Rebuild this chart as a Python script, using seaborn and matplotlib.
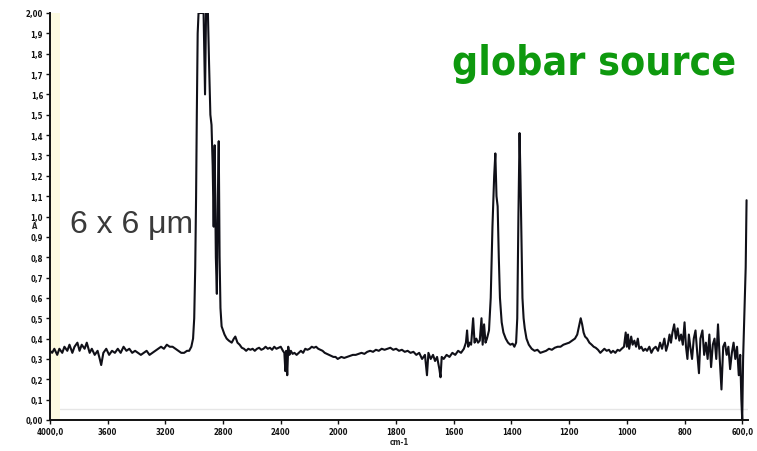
import os
import numpy as np
import pandas as pd
import matplotlib
matplotlib.use("Agg")
import matplotlib.pyplot as plt
from matplotlib import font_manager as fm
import seaborn as sns

# ---------------- data ----------------
wavenumber = [
    4000, 3985, 3970, 3950, 3935, 3915, 3900, 3880, 3865, 3845, 3830, 3810, 3795, 3780,
    3760, 3745, 3725, 3710, 3690, 3670, 3655, 3645, 3630, 3610, 3590, 3570, 3550, 3530,
    3510, 3490, 3470, 3450, 3430, 3410, 3390, 3370, 3350, 3330, 3310, 3290, 3270, 3250,
    3230, 3210, 3190, 3170, 3150, 3130, 3110, 3090, 3070, 3050, 3035, 3020, 3008, 3000,
    2993, 2987, 2982, 2976, 2970, 2950, 2935, 2925, 2918, 2905, 2897, 2888, 2880, 2872,
    2865, 2858, 2850, 2843, 2836, 2830, 2824, 2818, 2810, 2800, 2790, 2775, 2760, 2740,
    2725, 2715, 2700, 2685, 2670, 2655, 2640, 2625, 2610, 2595, 2580, 2565, 2550, 2535,
    2520, 2505, 2490, 2475, 2460, 2445, 2430, 2415, 2400, 2385, 2375, 2368, 2362, 2355,
    2348, 2340, 2330, 2318, 2305, 2290, 2275, 2260, 2245, 2230, 2215, 2200, 2185, 2170,
    2155, 2140, 2125, 2110, 2095, 2080, 2065, 2050, 2035, 2020, 2005, 1990, 1980, 1970,
    1960, 1950, 1940, 1930, 1920, 1910, 1900, 1890, 1880, 1870, 1860, 1850, 1840, 1830,
    1820, 1810, 1800, 1790, 1780, 1770, 1760, 1750, 1740, 1730, 1720, 1710, 1700, 1693,
    1688, 1680, 1672, 1665, 1658, 1650, 1646, 1642, 1635, 1625, 1615, 1605, 1595, 1585,
    1575, 1565, 1558, 1554, 1550, 1545, 1540, 1533, 1528, 1522, 1516, 1510, 1504, 1500,
    1495, 1490, 1485, 1478, 1472, 1466, 1460, 1456, 1452, 1448, 1444, 1440, 1434, 1428,
    1420, 1412, 1404, 1396, 1390, 1384, 1380, 1376, 1372, 1369, 1366, 1362, 1358, 1354,
    1348, 1340, 1330, 1320, 1310, 1300, 1290, 1280, 1270, 1260, 1250, 1240, 1230, 1220,
    1210, 1200, 1190, 1180, 1172, 1166, 1160, 1155, 1150, 1145, 1138, 1130, 1122, 1115,
    1108, 1100, 1092, 1085, 1078, 1070, 1062, 1055, 1048, 1040, 1032, 1025, 1018, 1010,
    1004, 1000, 996, 992, 985, 980, 974, 968, 962, 957, 950, 943, 936, 930,
    922, 915, 908, 900, 892, 885, 878, 870, 864, 858, 852, 847, 842, 836,
    830, 824, 818, 812, 806, 800, 795, 790, 785, 780, 774, 768, 762, 756,
    750, 745, 738, 732, 726, 720, 714, 708, 702, 696, 690, 684, 678, 672,
    666, 660, 654, 648, 642, 636, 630, 624, 618, 612, 607, 603, 600, 597,
    594, 591, 588, 585,
]
absorbance = [
    0.34, 0.33, 0.35, 0.32, 0.35, 0.33, 0.36, 0.34, 0.37, 0.33, 0.36, 0.38, 0.34, 0.37,
    0.35, 0.38, 0.33, 0.35, 0.32, 0.34, 0.30, 0.27, 0.33, 0.35, 0.32, 0.34, 0.33, 0.35,
    0.33, 0.36, 0.34, 0.35, 0.33, 0.34, 0.33, 0.32, 0.33, 0.34, 0.32, 0.33, 0.34, 0.35,
    0.36, 0.35, 0.37, 0.36, 0.36, 0.35, 0.34, 0.33, 0.33, 0.34, 0.34, 0.36, 0.40, 0.50,
    0.75, 1.10, 1.50, 1.90, 2.00, 2.00, 2.00, 1.60, 2.00, 2.00, 1.75, 1.50, 1.45, 1.25,
    0.95, 1.35, 0.80, 0.62, 1.10, 1.37, 0.80, 0.55, 0.46, 0.44, 0.42, 0.40, 0.39, 0.38,
    0.40, 0.41, 0.38, 0.37, 0.355, 0.35, 0.34, 0.35, 0.345, 0.35, 0.34, 0.35, 0.355, 0.345,
    0.35, 0.36, 0.35, 0.355, 0.345, 0.36, 0.35, 0.355, 0.36, 0.34, 0.33, 0.24, 0.34, 0.22,
    0.36, 0.32, 0.34, 0.325, 0.33, 0.32, 0.33, 0.34, 0.33, 0.35, 0.345, 0.35, 0.36, 0.355,
    0.36, 0.35, 0.345, 0.34, 0.33, 0.325, 0.32, 0.315, 0.31, 0.31, 0.30, 0.31, 0.305, 0.31,
    0.315, 0.32, 0.32, 0.325, 0.33, 0.325, 0.335, 0.34, 0.335, 0.345, 0.34, 0.35, 0.345, 0.35,
    0.355, 0.345, 0.35, 0.34, 0.345, 0.335, 0.34, 0.33, 0.335, 0.32, 0.33, 0.30, 0.32, 0.22,
    0.33, 0.30, 0.32, 0.29, 0.31, 0.25, 0.21, 0.31, 0.30, 0.32, 0.31, 0.33, 0.32, 0.34,
    0.33, 0.35, 0.38, 0.44, 0.36, 0.38, 0.37, 0.50, 0.38, 0.40, 0.38, 0.39, 0.50, 0.37,
    0.47, 0.38, 0.40, 0.44, 0.60, 0.95, 1.20, 1.31, 1.10, 1.05, 0.80, 0.60, 0.48, 0.43,
    0.40, 0.38, 0.37, 0.375, 0.36, 0.38, 0.50, 1.00, 1.41, 1.20, 0.95, 0.60, 0.50, 0.45,
    0.40, 0.37, 0.35, 0.34, 0.345, 0.33, 0.335, 0.34, 0.35, 0.345, 0.355, 0.36, 0.36, 0.37,
    0.375, 0.38, 0.39, 0.40, 0.42, 0.46, 0.50, 0.47, 0.43, 0.41, 0.40, 0.38, 0.37, 0.36,
    0.355, 0.345, 0.33, 0.34, 0.35, 0.34, 0.345, 0.33, 0.34, 0.33, 0.345, 0.34, 0.35, 0.36,
    0.43, 0.36, 0.42, 0.35, 0.41, 0.37, 0.39, 0.36, 0.40, 0.35, 0.36, 0.34, 0.35, 0.34,
    0.36, 0.33, 0.35, 0.36, 0.34, 0.38, 0.35, 0.40, 0.34, 0.37, 0.42, 0.38, 0.43, 0.47,
    0.40, 0.45, 0.39, 0.42, 0.37, 0.48, 0.36, 0.30, 0.42, 0.36, 0.30, 0.40, 0.44, 0.33,
    0.23, 0.40, 0.44, 0.32, 0.38, 0.30, 0.42, 0.26, 0.37, 0.40, 0.30, 0.47, 0.30, 0.15,
    0.36, 0.38, 0.32, 0.36, 0.25, 0.33, 0.38, 0.30, 0.36, 0.22, 0.32, 0.10, 0.00, 0.30,
    0.45, 0.60, 0.75, 1.08,
]

x_ticks = [4000, 3600, 3200, 2800, 2400, 2000, 1800, 1600, 1400, 1200, 1000, 800, 600]
x_tick_labels = ["4000,0", "3600", "3200", "2800", "2400", "2000", "1800", "1600",
                 "1400", "1200", "1000", "800", "600,0"]
y_ticks = [0.0, 0.1, 0.2, 0.3, 0.4, 0.5, 0.6, 0.7, 0.8, 0.9, 1.0,
           1.1, 1.2, 1.3, 1.4, 1.5, 1.6, 1.7, 1.8, 1.9, 2.0]
y_tick_labels = ["0,00", "0,1", "0,2", "0,3", "0,4", "0,5", "0,6", "0,7", "0,8", "0,9", "1,0",
                 "1,1", "1,2", "1,3", "1,4", "1,5", "1,6", "1,7", "1,8", "1,9", "2,00"]


# ---------------- fonts: look for a narrow / condensed bold sans ----------------
def find_condensed_bold():
    prefs = ['liberationsansnarrow', 'arimo', 'notosans', 'dejavusans', 'roboto',
             'opensans', 'lato', 'inter']
    found = []
    for f in fm.fontManager.ttflist:
        base = os.path.basename(f.fname)
        low = base.lower().replace('-', '').replace('_', '')
        if not ('narrow' in low or 'condensed' in low):
            continue
        if 'semicondensed' in low or 'extracondensed' in low or 'ultracondensed' in low:
            continue
        if 'italic' in low or 'oblique' in low:
            continue
        if 'bold' not in low or 'semibold' in low or 'extrabold' in low:
            continue
        if 'serif' in low or 'mono' in low:
            continue
        rank = len(prefs)
        for i, p in enumerate(prefs):
            if low.startswith(p):
                rank = i
                break
        found.append((rank, f.fname))
    found.sort()
    return found[0][1] if found else None


cond_bold = find_condensed_bold()

# ---------------- style ----------------
sns.set_style("ticks")
plt.rcParams['font.family'] = ['DejaVu Sans']

W, H = 757, 452
fig = plt.figure(figsize=(W / 100, H / 100), dpi=100)
ax = fig.add_axes([50 / W, 31 / H, 698 / W, 407 / H])


# wavenumber axis: scale doubles below 2000 cm-1 (as in the instrument display)
def fwd(w):
    w = np.asarray(w, dtype=float)
    return np.where(w >= 2000, w, 2 * w - 2000)


def inv(v):
    v = np.asarray(v, dtype=float)
    return np.where(v >= 2000, v, (v + 2000) / 2)


ax.set_xscale('function', functions=(fwd, inv))

# faint artefacts of the original screenshot
ax.axvspan(3990, 3934, color='#fdfbe2', zorder=0, lw=0)
ax.axhline(0.054, xmin=10 / 698, xmax=1, color='#e6e6e6', lw=1, zorder=0)

df = pd.DataFrame({'wn': wavenumber, 'A': absorbance})
sns.lineplot(data=df, x='wn', y='A', sort=False, estimator=None,
             color='#101018', lw=1.5, ax=ax)

ax.set_xlim(4000, 580)
ax.set_ylim(0, 2.0)

if cond_bold:
    tick_fp = fm.FontProperties(fname=cond_bold, size=5.6)
else:
    tick_fp = fm.FontProperties(family='DejaVu Sans', weight='bold', size=5.0)

ax.set_xticks(x_ticks)
ax.set_xticklabels(x_tick_labels, fontproperties=tick_fp)
ax.set_yticks(y_ticks)
ax.set_yticklabels(y_tick_labels, fontproperties=tick_fp)
ax.minorticks_off()
ax.tick_params(axis='both', direction='out', length=3, width=1, pad=2, colors='#111111')

for s in ['top', 'right']:
    ax.spines[s].set_visible(False)
for s in ['left', 'bottom']:
    ax.spines[s].set_linewidth(1.4)
    ax.spines[s].set_color('#111111')

ax.set_xlabel('cm-1', fontproperties=tick_fp, labelpad=1)
ax.set_ylabel('A', rotation=0, fontproperties=tick_fp, va='center', ha='center')
ax.yaxis.set_label_coords(-0.022, 0.479)

# annotations
t1 = fig.text(70 / W, 1 - 233 / H, '6 x 6 μm', fontsize=23, color='#3a3a3a',
              family=['Liberation Sans', 'DejaVu Sans'], fontweight='normal',
              ha='left', va='baseline')
if cond_bold:
    g_fp = fm.FontProperties(fname=cond_bold, size=38)
else:
    g_fp = fm.FontProperties(family=['Roboto', 'Liberation Sans', 'DejaVu Sans'],
                             weight='bold', size=38)
t2 = fig.text(452 / W, 1 - 75 / H, 'globar source', fontproperties=g_fp,
              color='#0e990e', ha='left', va='baseline')

# fit the annotation widths to those of the original picture
fig.canvas.draw()
r = fig.canvas.get_renderer()
for t, target in [(t1, 123.0), (t2, 284.0)]:
    wpx = t.get_window_extent(renderer=r).width
    if wpx > 0:
        t.set_fontsize(t.get_fontsize() * target / wpx)

fig.savefig('out.png', dpi=100)
